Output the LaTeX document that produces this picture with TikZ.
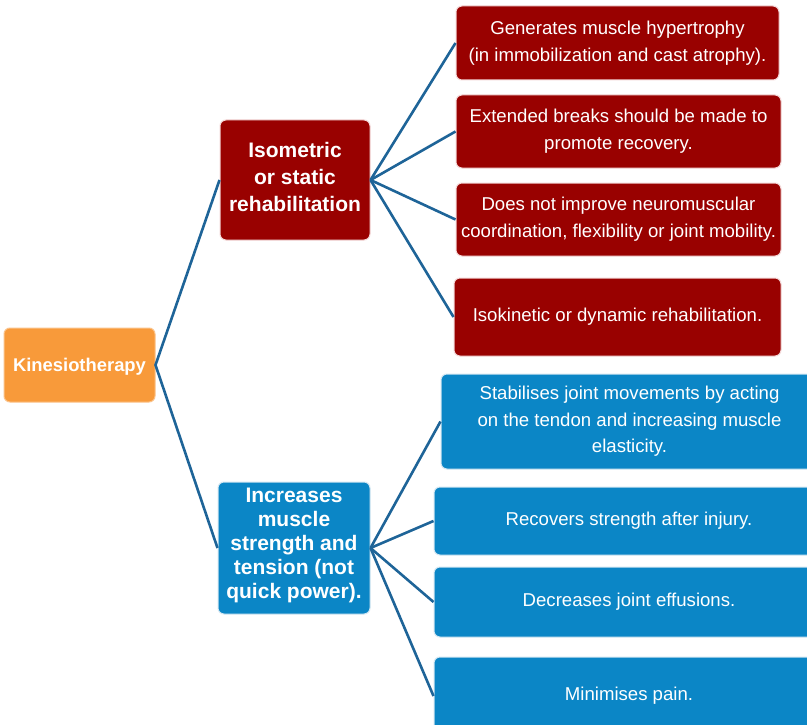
\documentclass[tikz,border=0pt]{standalone}
\usepackage{fontspec}
\setmainfont{Liberation Sans}
\definecolor{kinorange}{HTML}{F89A3A}
\definecolor{isored}{HTML}{990100}
\definecolor{incblue}{HTML}{0B86C6}
\definecolor{linkblue}{HTML}{1E6498}
\definecolor{redrim}{HTML}{F3D6D6}
\definecolor{bluerim}{HTML}{D2E6F2}
\begin{document}
\begin{tikzpicture}[x=1pt,y=-1pt,
  box/.style={rounded corners=6pt, text=white, align=center, inner sep=0pt, line width=1pt},
  rootbox/.style={box, fill=kinorange, draw=kinorange!60!white, text depth=0pt, font=\bfseries\fontsize{18.4}{22}\selectfont},
  redhub/.style={box, fill=isored, draw=redrim, text depth=6pt, font=\bfseries\fontsize{21}{27}\selectfont},
  bluehub/.style={box, fill=incblue, draw=bluerim, text depth=10pt, font=\bfseries\fontsize{21}{24}\selectfont},
  redleaf/.style={box, fill=isored, draw=redrim, font=\fontsize{18.6}{27}\selectfont},
  blueleaf/.style={box, fill=incblue, draw=bluerim, font=\fontsize{18.6}{26.5}\selectfont},
  link/.style={draw=linkblue, line width=2.6pt}]
\clip (0,0) rectangle (807,725);
\fill[white] (0,0) rectangle (807,725);

% root
\node[rootbox, minimum width=151pt, minimum height=74pt] (kin) at (79.5,365) {Kinesiotherapy};

% branch hubs
\node[redhub, minimum width=150pt, minimum height=120pt] (iso) at (295,180)
  {Isometric\\or static\\rehabilitation};
\node[bluehub, minimum width=152pt, minimum height=132pt] (inc) at (294,548)
  {Increases\\muscle\\strength and\\tension (not\\quick power).};

% leaves of the isometric branch
\node[redleaf, minimum width=323pt, minimum height=74pt] (r1) at (617.5,43)
  {Generates muscle hypertrophy\\(in immobilization and cast atrophy).};
\node[redleaf, minimum width=325pt, minimum height=73pt] (r2) at (618.5,131.5)
  {Extended breaks should be made to\\promote recovery.};
\node[redleaf, minimum width=325pt, minimum height=73pt] (r3) at (618.5,219.5)
  {Does not improve neuromuscular\\coordination, flexibility or joint mobility.};
\node[redleaf, minimum width=327pt, minimum height=78pt] (r4) at (617.5,317)
  {Isokinetic or dynamic rehabilitation.};

% leaves of the strength branch
\node[blueleaf, minimum width=377pt, minimum height=95pt] (b1) at (629.5,421.5)
  {Stabilises joint movements by acting\\on the tendon and increasing muscle\\elasticity.};
\node[blueleaf, minimum width=390pt, minimum height=68pt] (b2) at (629,521)
  {Recovers strength after injury.};
\node[blueleaf, minimum width=390pt, minimum height=70pt] (b3) at (629,602)
  {Decreases joint effusions.};
\node[blueleaf, minimum width=390pt, minimum height=78pt] (b4) at (629,696)
  {Minimises pain.};

% connectors
\draw[link] (iso.west) -- (kin.east) -- (inc.west);
\foreach \t in {r1,r2,r3,r4} \draw[link] (iso.east) -- (\t.west);
\foreach \t in {b1,b2,b3,b4} \draw[link] (inc.east) -- (\t.west);
\end{tikzpicture}
\end{document}
